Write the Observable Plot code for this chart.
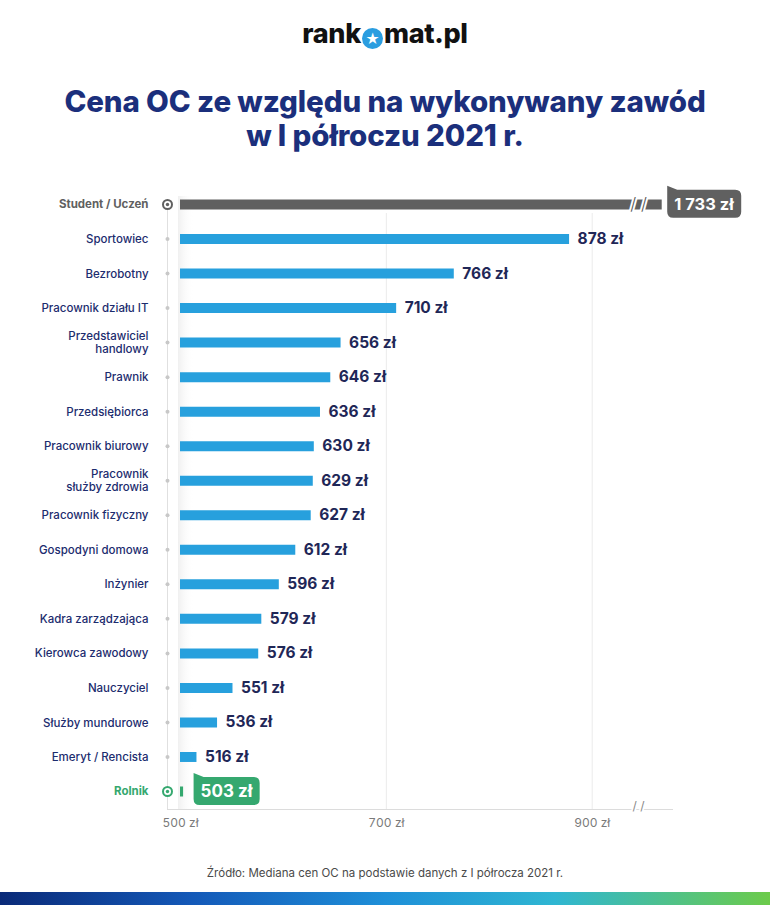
<!DOCTYPE html>
<html>
<head>
<meta charset="utf-8">
<script src="https://cdn.jsdelivr.net/npm/d3@7"></script>
<script src="https://cdn.jsdelivr.net/npm/@observablehq/plot@0.6"></script>
<style>
  html, body { margin: 0; padding: 0; background: #fff; }
  #page { position: relative; width: 770px; height: 905px; overflow: hidden; font-family: Inter, "Open Sans", sans-serif; }
  #logo { position: absolute; top: 14px; left: 0; width: 770px; text-align: center; font-size: 27px; font-weight: 800; color: #111; letter-spacing: -0.3px; line-height: 40px; }
  #logo .o { display: inline-block; width: 21px; height: 21px; border-radius: 50%; background: #2a9de0; color: #fff; font-size: 14px; line-height: 21px; text-align: center; vertical-align: -1px; margin: 0 1px; }
  #title { position: absolute; top: 84px; left: 0; width: 770px; text-align: center; font-size: 29.5px; font-weight: 800; color: #1b2f7c; line-height: 34px; letter-spacing: -0.1px; }
  #chart { position: absolute; top: 180px; left: 0; line-height: 0; }
  #chart svg { display: block; }
  #source { position: absolute; top: 866px; left: 0; width: 770px; text-align: center; font-size: 11.5px; color: #4a4a4a; }
  #band { position: absolute; top: 892px; left: 0; width: 770px; height: 13px; background: linear-gradient(90deg, #0a2a78 0%, #1459b8 25%, #1e8fd8 50%, #2fb6d2 72%, #6ccb4a 100%); }
</style>
</head>
<body>
<div id="page">
  <div id="logo">rank<span class="o" aria-label="o">★</span>mat.pl</div>
  <div id="title">Cena OC ze względu na wykonywany zawód<br>w I półroczu 2021 r.</div>
  <div id="chart"></div>
  <div id="source">Źródło: Mediana cen OC na podstawie danych z I półrocza 2021 r.</div>
  <div id="band"></div>
</div>
<script>
// ---- data ----
const categories = [
  "Student / Uczeń", "Sportowiec", "Bezrobotny", "Pracownik działu IT",
  "Przedstawiciel\nhandlowy", "Prawnik", "Przedsiębiorca", "Pracownik biurowy",
  "Pracownik\nsłużby zdrowia", "Pracownik fizyczny", "Gospodyni domowa", "Inżynier",
  "Kadra zarządzająca", "Kierowca zawodowy", "Nauczyciel", "Służby mundurowe",
  "Emeryt / Rencista", "Rolnik"
];
const prices = [1733, 878, 766, 710, 656, 646, 636, 630, 629, 627, 612, 596, 579, 576, 551, 536, 516, 503];
const xTicks = [500, 700, 900];
const xDomain = [500, 978];
const axisBreak = 945;      // where the value axis is broken
const barCap = 968;         // displayed end of the broken (off-scale) bar
const maxCategory = "Student / Uczeń";
const minCategory = "Rolnik";

// ---- build ----
const data = categories.map((name, i) => ({name, value: prices[i]}));
const normal = data.filter(d => d.name !== maxCategory && d.name !== minCategory);
const maxRow = data.filter(d => d.name === maxCategory);
const minRow = data.filter(d => d.name === minCategory);
const fmt = v => String(v).replace(/\B(?=(\d{3})+(?!\d))/g, " ") + " zł";

const BLUE = "#27a0dd", GRAY = "#606060", GREEN = "#35a86f", NAVY = "#1c2c6e", DARK = "#1f2757";
const colorOf = d => d.name === maxCategory ? GRAY : d.name === minCategory ? GREEN : BLUE;

const plot = Plot.plot({
  width: 770,
  height: 660,
  marginLeft: 167,
  marginRight: 98,
  marginTop: 24,
  marginBottom: 31,
  style: {fontFamily: "Inter, 'Open Sans', sans-serif", background: "transparent"},
  x: {domain: xDomain, insetLeft: 13, axis: null, label: null},
  y: {type: "point", domain: categories, padding: 0, round: false, insetBottom: 18, axis: null, label: null},
  marks: [
    Plot.ruleX(xTicks.filter(t => t > xDomain[0]), {stroke: "#ebebeb", insetTop: 9}),
    Plot.frame({anchor: "left", stroke: "#e0e0e0"}),
    Plot.frame({anchor: "bottom", stroke: "#dcdcdc"}),
    Plot.axisX({ticks: xTicks, tickFormat: d => `${d} zł`, tickSize: 0, tickPadding: 9, fontSize: 12, fill: "#7a7a7a", anchor: "bottom", label: null}),
    // bars
    Plot.ruleY(data, {y: "name", x1: xDomain[0], x2: d => Math.min(d.value, barCap), stroke: colorOf, strokeWidth: 10}),
    // axis breaks
    Plot.text(maxRow, {x: () => axisBreak, y: "name", text: () => "/ /", fontSize: 17, fontWeight: 300, fill: "#555", stroke: "#fff", strokeWidth: 4, paintOrder: "stroke"}),
    Plot.text([axisBreak], {x: d => d, frameAnchor: "bottom", text: () => "/ /", fontSize: 12, fill: "#888", stroke: "#fff", strokeWidth: 3.5, paintOrder: "stroke"}),
    // row dots
    Plot.dot(normal, {y: "name", frameAnchor: "left", r: 2, fill: "#c8c8c8"}),
    Plot.dot([...maxRow, ...minRow], {y: "name", frameAnchor: "left", r: 4.5, fill: "#fff", stroke: colorOf, strokeWidth: 2}),
    Plot.dot([...maxRow, ...minRow], {y: "name", frameAnchor: "left", r: 1.7, fill: colorOf}),
    // category labels
    Plot.text(normal, {y: "name", text: "name", frameAnchor: "left", textAnchor: "end", dx: -19, fontSize: 11.5, fontWeight: 500, fill: NAVY, lineHeight: 1.1}),
    Plot.text([...maxRow, ...minRow], {y: "name", text: "name", frameAnchor: "left", textAnchor: "end", dx: -19, fontSize: 11.5, fontWeight: 700, fill: colorOf}),
    // value labels
    Plot.text(normal, {x: "value", y: "name", text: d => fmt(d.value), dx: 8, textAnchor: "start", fontSize: 15.5, fontWeight: 700, fill: DARK}),
    Plot.text(maxRow, {x: () => barCap, y: "name", text: d => fmt(d.value), dx: 12, textAnchor: "start", fontSize: 16.5, fontWeight: 700, fill: "#fff", className: "box-gray"}),
    Plot.text(minRow, {x: "value", y: "name", text: d => fmt(d.value), dx: 17, textAnchor: "start", fontSize: 17, fontWeight: 700, fill: "#fff", className: "box-green"})
  ]
});
document.getElementById("chart").appendChild(plot);

const NS = "http://www.w3.org/2000/svg";
// faint shading at the start of the bars
(function () {
  const xs = plot.scale("x"), ys = plot.scale("y");
  const x0 = xs.apply(xDomain[0]);
  const defs = document.createElementNS(NS, "defs");
  defs.innerHTML = `<linearGradient id="shade" x1="0" x2="1" y1="0" y2="0"><stop offset="0" stop-color="#f0f0f0" stop-opacity="1"/><stop offset="1" stop-color="#ffffff" stop-opacity="0"/></linearGradient>`;
  plot.insertBefore(defs, plot.firstChild);
  const r = document.createElementNS(NS, "rect");
  const top = ys.apply(categories[0]) - 8;
  r.setAttribute("x", x0 - 2); r.setAttribute("width", 16);
  r.setAttribute("y", top); r.setAttribute("height", 660 - 31 - top);
  r.setAttribute("fill", "url(#shade)");
  plot.insertBefore(r, defs.nextSibling);
})();

// label boxes (rounded callouts) behind the highlighted value labels
function addBox(cls, color) {
  plot.querySelectorAll(`.${cls} text`).forEach(t => {
    const b = t.getBBox();
    const x0 = b.x - 7, x1 = b.x + b.width + 7;
    const cy = b.y + b.height / 2, y0 = cy - 14, y1 = cy + 14, r = 6;
    const p = document.createElementNS(NS, "path");
    p.setAttribute("d", `M${x0},${y0 - 4} L${x0 + 10},${y0} L${x1 - r},${y0} Q${x1},${y0} ${x1},${y0 + r} L${x1},${y1 - r} Q${x1},${y1} ${x1 - r},${y1} L${x0 + r},${y1} Q${x0},${y1} ${x0},${y1 - r} Z`);
    p.setAttribute("fill", color);
    if (t.getAttribute("transform")) p.setAttribute("transform", t.getAttribute("transform"));
    t.parentNode.insertBefore(p, t);
  });
}
addBox("box-gray", GRAY);
addBox("box-green", GREEN);
</script>
</body>
</html>
